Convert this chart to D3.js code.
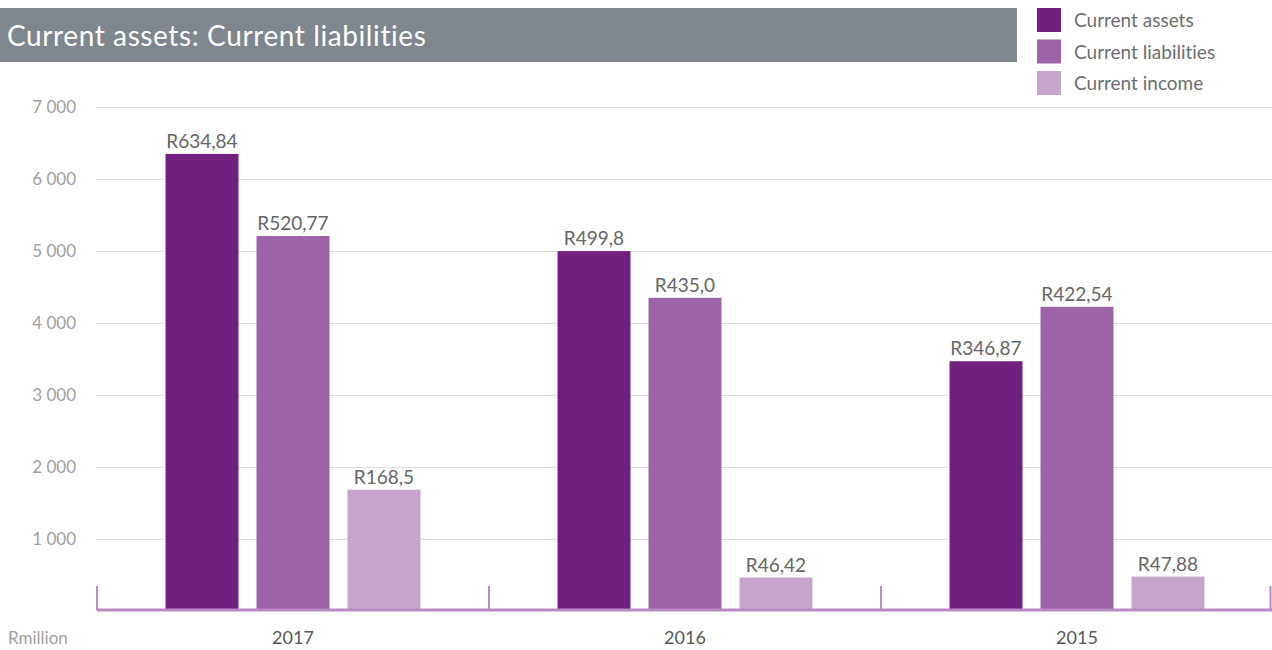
<!DOCTYPE html>
<html lang="en">
    <head>
        <meta charset="utf-8">
        <title>Current assets: Current liabilities</title>
        <script src="https://d3js.org/d3.v7.min.js"></script>
        <style type="text/css">
            body { margin: 0; background: #fff; }
            text { font-family: "Lato", "Open Sans", sans-serif; font-variant-ligatures: none; }
        </style>
    </head>
    <body>
        <script>
            // data
            var years = ["2017", "2016", "2015"];
            var seriesNames = ["Current assets", "Current liabilities", "Current income"];
            var assets = [6348.4, 4998.0, 3468.7];
            var liabilities = [5207.7, 4350.0, 4225.4];
            var income = [1685.0, 464.2, 478.8];
            var assetLabels = ["R634,84", "R499,8", "R346,87"];
            var liabilityLabels = ["R520,77", "R435,0", "R422,54"];
            var incomeLabels = ["R168,5", "R46,42", "R47,88"];
            var yTicks = [1000, 2000, 3000, 4000, 5000, 6000, 7000];
            var yTickLabels = ["1 000", "2 000", "3 000", "4 000", "5 000", "6 000", "7 000"];

            var colors = ["#72207f", "#9c63a7", "#c7a4cc"];

            // configuration
            var outerWidth = 1272;
            var outerHeight = 650;
            var margin = { left: 97, top: 107, right: 0, bottom: 40 };

            var svg = d3.select("body")
                .append("svg")
                .attr("width", outerWidth)
                .attr("height", outerHeight);

            var xScale = d3.scaleBand().domain(years).range([margin.left, outerWidth + 1]);
            var x1Scale = d3.scaleBand().domain(seriesNames)
                .range([0, xScale.bandwidth()])
                .paddingInner(0.198)
                .paddingOuter(0.753);
            var yScale = d3.scaleLinear().domain([0, 7000]).range([611, 107]);

            // title bar
            svg.append("rect")
                .attr("x", 0).attr("y", 8)
                .attr("width", 1017).attr("height", 54)
                .attr("fill", "#7f868d");
            svg.append("text")
                .attr("x", 7).attr("y", 46)
                .attr("fill", "#fff")
                .attr("font-size", 28)
                .attr("letter-spacing", 0.6)
                .text("Current assets: Current liabilities");

            // legend
            var legend = svg.selectAll(".legend").data(seriesNames).enter().append("g")
                .attr("transform", function (d, i) { return "translate(1037," + (8 + i * 31.5) + ")"; });
            legend.append("rect")
                .attr("width", 24).attr("height", 24)
                .attr("fill", function (d, i) { return colors[i]; });
            legend.append("text")
                .attr("x", 37).attr("y", 19)
                .attr("fill", "#6d6e71")
                .attr("font-size", 19)
                .text(function (d) { return d; });

            // gridlines
            svg.append("g").selectAll("line").data(yTicks).enter().append("line")
                .attr("x1", margin.left).attr("x2", outerWidth)
                .attr("y1", function (d) { return Math.round(yScale(d)) + 0.5; })
                .attr("y2", function (d) { return Math.round(yScale(d)) + 0.5; })
                .attr("stroke", "#dcdcdc")
                .attr("stroke-width", 1);

            // y labels
            svg.append("g").selectAll("text").data(yTicks).enter().append("text")
                .attr("x", 76)
                .attr("y", function (d) { return yScale(d) + 6; })
                .attr("text-anchor", "end")
                .attr("fill", "#a0a0a0")
                .attr("font-size", 17)
                .text(function (d, i) { return yTickLabels[i]; });

            // bars
            var series = [
                { name: seriesNames[0], values: assets, labels: assetLabels },
                { name: seriesNames[1], values: liabilities, labels: liabilityLabels },
                { name: seriesNames[2], values: income, labels: incomeLabels }
            ];

            series.forEach(function (s, si) {
                var data = years.map(function (y, i) { return { year: y, value: s.values[i], label: s.labels[i] }; });
                var g = svg.append("g");
                g.selectAll("rect").data(data).enter().append("rect")
                    .attr("x", function (d) { return xScale(d.year) + x1Scale(s.name); })
                    .attr("y", function (d) { return yScale(d.value); })
                    .attr("width", x1Scale.bandwidth())
                    .attr("height", function (d) { return yScale(0) - yScale(d.value); })
                    .attr("fill", colors[si]);
                g.selectAll("text").data(data).enter().append("text")
                    .attr("x", function (d) { return xScale(d.year) + x1Scale(s.name) + x1Scale.bandwidth() / 2; })
                    .attr("y", function (d) { return yScale(d.value) - 6; })
                    .attr("text-anchor", "middle")
                    .attr("fill", "#666668")
                    .attr("font-size", 19)
                    .text(function (d) { return d.label; });
            });

            // baseline and category ticks
            var axisColor = "#b98bc3";
            svg.append("line")
                .attr("x1", margin.left).attr("x2", outerWidth)
                .attr("y1", 610).attr("y2", 610)
                .attr("stroke", axisColor).attr("stroke-width", 3);
            var tickXs = years.map(function (y) { return xScale(y); }).concat([outerWidth - 1.5]);
            svg.append("g").selectAll("line").data(tickXs).enter().append("line")
                .attr("x1", function (d) { return d; }).attr("x2", function (d) { return d; })
                .attr("y1", 586).attr("y2", 610)
                .attr("stroke", axisColor).attr("stroke-width", 2);

            // x labels
            svg.append("g").selectAll("text").data(years).enter().append("text")
                .attr("x", function (d) { return xScale(d) + xScale.bandwidth() / 2; })
                .attr("y", 644)
                .attr("text-anchor", "middle")
                .attr("fill", "#58595b")
                .attr("font-size", 18)
                .text(function (d) { return d; });

            svg.append("text")
                .attr("x", 8).attr("y", 644)
                .attr("fill", "#a0a0a0")
                .attr("font-size", 17)
                .text("Rmillion");
        </script>
    </body>
</html>
